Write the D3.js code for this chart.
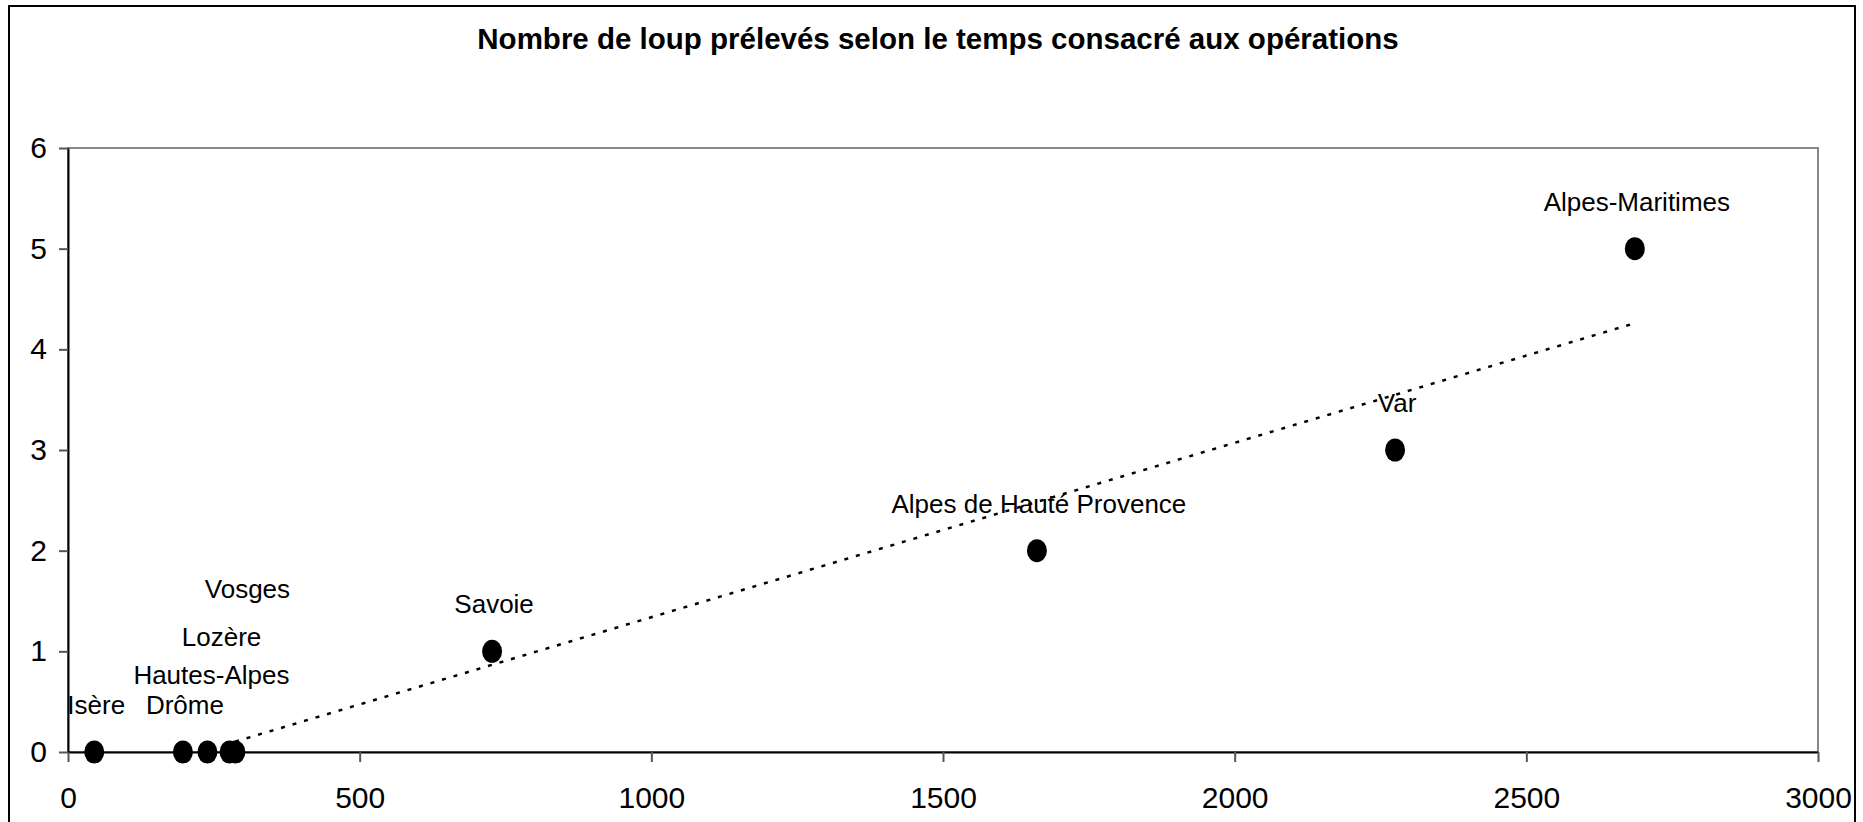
<!DOCTYPE html>
<html>
<head>
<meta charset="utf-8">
<script src="https://cdn.jsdelivr.net/npm/d3@7"></script>
<style>
  body { margin: 0; background: #fff; }
  svg { display: block; font-family: 'Liberation Sans', Arial, sans-serif; }
</style>
</head>
<body>
<svg id="chart" width="1863" height="822"></svg>
<script>
// departements, hours of operations, wolves taken
var departements = ['Isère', 'Drôme', 'Hautes-Alpes', 'Lozère', 'Vosges', 'Savoie',
  'Alpes de Hauté Provence', 'Var', 'Alpes-Maritimes']
var heures = [45, 197, 239, 277, 287, 727, 1661, 2275, 2686]
var loups = [0, 0, 0, 0, 0, 1, 2, 3, 5]

var xTicks = [0, 500, 1000, 1500, 2000, 2500, 3000]
var yTicks = [0, 1, 2, 3, 4, 5, 6]

var titre = 'Nombre de loup prélevés selon le temps consacré aux opérations'

// labels were dragged by hand in the original, so nudge a few of them
var labelNudge = {
  'Hautes-Alpes': [4, -68],
  'Lozère': [-8, -106],
  'Vosges': [12, -154]
}

var svg = d3.select('#chart')

var margin = { left: 68, top: 148 }
var x = d3.scaleLinear().domain([0, 3000]).range([margin.left, 1818])
var y = d3.scaleLinear().domain([0, 6]).range([752, margin.top])

// outer frame
svg.append('rect')
  .attr('x', 9).attr('y', 6)
  .attr('width', 1846).attr('height', 840)
  .attr('fill', 'none')
  .attr('stroke', '#000')
  .attr('stroke-width', 2)

svg.append('text')
  .attr('x', 938).attr('y', 49)
  .attr('text-anchor', 'middle')
  .attr('font-size', 29.5)
  .attr('font-weight', 'bold')
  .text(titre)

// plot area border (grey top / right)
svg.append('rect')
  .attr('x', x(0)).attr('y', y(6))
  .attr('width', x(3000) - x(0)).attr('height', y(0) - y(6))
  .attr('fill', 'none')
  .attr('stroke', '#888')
  .attr('stroke-width', 2)

var fmt = d3.format('d')
var xAxis = svg.append('g')
  .attr('transform', 'translate(0,' + y(0) + ')')
  .call(d3.axisBottom(x).tickValues(xTicks).tickFormat(fmt)
    .tickSize(10).tickSizeOuter(0).tickPadding(25))
var yAxis = svg.append('g')
  .attr('transform', 'translate(' + x(0) + ',0)')
  .call(d3.axisLeft(y).tickValues(yTicks).tickFormat(fmt)
    .tickSize(9).tickSizeOuter(0).tickPadding(12))

;[xAxis, yAxis].forEach(function (ax) {
  ax.select('.domain').attr('stroke', '#000').attr('stroke-width', 2)
  ax.selectAll('.tick line').attr('stroke', '#555').attr('stroke-width', 2)
  ax.selectAll('.tick text')
    .attr('font-size', 30)
    .attr('font-family', "'Liberation Sans', Arial, sans-serif")
    .attr('fill', '#000')
})

var points = departements.map(function (d, i) {
  return { name: d, h: heures[i], n: loups[i] }
})

// linear trend line (least squares), clipped to the plot area
var mx = d3.mean(heures)
var my = d3.mean(loups)
var sxy = d3.sum(points, function (p) { return (p.h - mx) * (p.n - my) })
var sxx = d3.sum(points, function (p) { return (p.h - mx) * (p.h - mx) })
var pente = sxy / sxx
var origine = my - pente * mx
var hMin = Math.max(d3.min(heures), -origine / pente)
var hMax = d3.max(heures)

svg.append('line')
  .attr('x1', x(hMin)).attr('y1', y(origine + pente * hMin))
  .attr('x2', x(hMax)).attr('y2', y(origine + pente * hMax))
  .attr('stroke', '#000')
  .attr('stroke-width', 2.5)
  .attr('stroke-dasharray', '4,8')

svg.append('g')
  .selectAll('ellipse')
  .data(points)
  .join('ellipse')
  .attr('cx', function (d) { return x(d.h) })
  .attr('cy', function (d) { return y(d.n) })
  .attr('rx', 10)
  .attr('ry', 11.5)
  .attr('fill', '#000')

svg.append('g')
  .selectAll('text')
  .data(points)
  .join('text')
  .attr('x', function (d) { return x(d.h) + (labelNudge[d.name] ? labelNudge[d.name][0] : 2) })
  .attr('y', function (d) { return y(d.n) + (labelNudge[d.name] ? labelNudge[d.name][1] : -38) })
  .attr('text-anchor', 'middle')
  .attr('font-size', 26)
  .attr('fill', '#000')
  .text(function (d) { return d.name })
</script>
</body>
</html>
